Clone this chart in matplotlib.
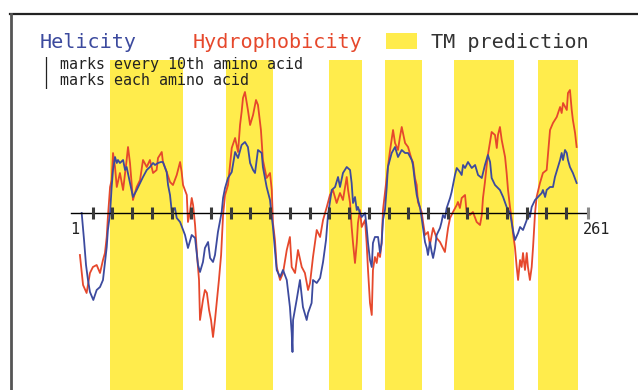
import matplotlib.pyplot as plt
from matplotlib.patches import Rectangle

# helicity profile (blue), residue positions and score
hel_res = [4.4, 5.6, 6.6, 7.6, 8.6, 10.3, 12.0, 13.7, 15.2, 16.2, 17.1, 17.7, 18.8, 19.6, 20.3,
           21.3, 22.2, 22.8, 23.8, 25.4, 26.4, 27.2, 28.9, 30.4, 32.3, 34.0, 35.5, 37.4, 39.0,
           40.6, 41.6, 43.1, 44.6, 45.6, 47.5, 48.2, 49.2, 50.1, 51.7, 52.6, 54.3, 56.8, 58.3,
           60.2, 61.9, 63.4, 64.4, 65.9, 66.9, 68.5, 69.5, 71.0, 72.0, 73.5, 75.4, 76.1, 77.1,
           78.6, 80.5, 82.2, 83.7, 85.5, 87.2, 88.7, 89.8, 91.3, 92.3, 93.8, 95.7, 96.3, 98.2,
           99.9, 100.8, 101.4, 102.4, 103.3, 105.0, 106.5, 108.4, 110.0, 110.9, 111.3, 111.6,
           113.4, 115.1, 116.6, 118.5, 119.2, 121.0, 121.7, 123.6, 125.3, 126.8, 128.3, 129.3,
           131.2, 132.9, 134.4, 135.4, 136.9, 138.8, 140.5, 141.3, 142.0, 143.0, 143.9, 144.5,
           145.5, 146.4, 148.1, 148.9, 149.6, 150.6, 151.5, 152.1, 153.1, 154.7, 155.7, 156.5,
           157.2, 158.2, 159.1, 159.7, 161.6, 163.3, 164.8, 166.7, 168.4, 169.9, 171.8, 172.4,
           173.4, 174.3, 176.0, 176.8, 177.5, 178.5, 179.4, 180.0, 181.0, 181.9, 182.6, 183.6,
           184.4, 186.1, 186.9, 187.6, 188.6, 189.5, 191.2, 192.0, 192.7, 193.7, 194.6, 196.2,
           197.1, 197.8, 198.8, 200.3, 202.2, 203.9, 205.4, 207.3, 208.9, 210.4, 211.5, 212.3,
           214.0, 215.5, 216.5, 218.1, 219.9, 221.6, 222.5, 223.1, 224.1, 225.7, 226.7, 228.2,
           230.1, 230.7, 231.7, 232.6, 234.3, 235.8, 237.7, 238.3, 239.4, 240.2, 241.9, 243.4,
           244.4, 245.9, 247.0, 247.8, 248.5, 249.5, 250.4, 251.0, 252.0, 253.5, 255.4]
hel_val = [0.0, -2.7, -5.2, -6.7, -7.9, -8.7, -7.7, -7.4, -6.7, -5.0, -3.4, -1.7, 0.0, 2.6, 4.3,
           5.6, 5.0, 5.3, 5.0, 5.3, 4.3, 4.6, 3.0, 1.6, 2.3, 3.0, 3.6, 4.3, 4.6,
           5.0, 4.8, 5.0, 5.1, 5.1, 4.1, 2.8, 1.8, 0.1, 0.5, -0.5, -0.9, -2.2, -3.5,
           -2.2, -2.5, -5.2, -5.9, -4.9, -3.5, -2.9, -4.5, -4.9, -4.2, -1.9, 0.1, 1.5, 2.5,
           3.5, 4.1, 6.1, 5.5, 6.8, 7.1, 6.6, 5.0, 4.3, 4.0, 6.3, 6.0, 4.6, 2.6,
           1.3, -0.4, -1.4, -3.7, -5.7, -6.4, -5.7, -6.7, -9.4, -12.0, -13.9, -10.7,
           -8.7, -6.7, -9.4, -10.7, -10.0, -9.0, -6.7, -7.0, -6.5, -4.9, -2.7, -0.2,
           2.3, 2.6, 3.6, 2.6, 4.0, 4.6, 4.3, 3.0, 1.0, 1.6, 0.3, 0.6,
           0.0, -0.4, 0.0, -1.4, -3.0, -4.7, -5.4, -3.0, -2.4, -2.4, -4.0, -3.0,
           -0.7, 0.3, 2.6, 4.6, 6.0, 6.6, 5.6, 6.3, 6.0, 6.0, 5.3, 4.8,
           3.1, 1.8, 0.5, -0.5, -1.5, -2.9, -3.5, -4.2, -2.9, -3.9, -4.5, -3.5,
           -2.2, -1.5, -0.9, -0.2, -0.5, 0.5, 1.5, 2.1, 2.8, 3.8, 4.5, 4.1,
           3.8, 4.8, 4.5, 5.1, 4.5, 4.8, 3.8, 3.5, 4.8, 5.8, 5.1, 3.5,
           2.8, 2.5, 2.3, 1.6, 0.6, 0.0, -1.0, -1.7, -2.7, -2.0, -1.4, -1.7,
           -0.7, 0.3, -0.4, 0.6, 1.3, 1.6, 2.0, 2.3, 1.6, 2.3, 2.6, 2.6,
           3.6, 4.6, 5.3, 6.0, 5.3, 6.3, 6.0, 5.3, 4.6, 4.0, 3.0]

# hydrophobicity profile (red)
hyd_res = [3.5, 5.1, 6.9, 8.6, 10.1, 12.0, 13.7, 15.2, 16.2, 17.1, 17.7, 18.8, 19.6, 20.3, 21.3,
           22.2, 23.8, 25.4, 27.2, 27.9, 28.9, 30.4, 32.3, 34.0, 35.5, 37.4, 39.0, 40.6, 42.4,
           43.1, 45.0, 45.6, 47.5, 49.2, 50.7, 52.6, 54.3, 55.1, 55.8, 57.7, 58.3, 59.3, 60.2,
           60.9, 61.9, 62.9, 63.9, 64.4, 65.9, 66.9, 67.9, 69.0, 70.0, 71.0, 72.0, 73.0, 74.0,
           75.1, 75.6, 76.1, 77.1, 78.6, 80.5, 82.2, 83.7, 84.7, 85.5, 86.2, 87.2, 88.7, 89.8,
           91.3, 92.8, 93.8, 95.3, 96.3, 98.2, 99.9, 100.8, 101.4, 102.4, 103.3, 105.0, 106.5,
           108.4, 110.0, 110.9, 112.6, 114.1, 116.0, 117.6, 119.2, 120.2, 121.7, 123.6, 125.3,
           126.8, 128.7, 130.3, 131.8, 133.7, 135.4, 136.9, 138.8, 139.5, 140.5, 141.3, 142.0,
           143.0, 143.9, 144.5, 145.5, 146.4, 148.1, 148.9, 149.6, 150.6, 151.5, 152.1, 153.1,
           154.0, 154.7, 155.7, 156.5, 157.2, 158.2, 159.7, 160.8, 162.3, 163.3, 164.8, 165.8,
           166.7, 168.4, 169.9, 171.8, 172.4, 173.4, 174.3, 174.9, 176.8, 177.5, 178.5, 180.0,
           181.0, 181.9, 182.6, 184.4, 186.1, 187.6, 188.6, 189.5, 190.2, 191.2, 192.7, 194.6,
           195.2, 196.2, 197.1, 198.8, 199.6, 201.3, 202.8, 204.7, 206.4, 207.3, 207.9, 208.9,
           209.8, 210.4, 211.5, 212.3, 214.0, 214.9, 215.5, 216.5, 217.4, 219.1, 219.9, 220.6,
           221.6, 222.5, 223.1, 224.1, 225.0, 225.7, 226.7, 227.5, 228.2, 229.2, 230.1, 230.7,
           231.7, 232.6, 233.3, 234.3, 235.1, 236.8, 238.3, 240.2, 241.9, 243.4, 245.3, 247.0,
           247.8, 248.5, 250.4, 251.0, 252.0, 252.9, 253.5, 254.6, 255.4]
hyd_val = [-4.2, -7.2, -8.0, -6.0, -5.4, -5.2, -6.0, -4.7, -4.0, -2.4, -0.4, 2.6, 3.3, 6.0, 4.6,
           2.6, 4.0, 2.3, 5.3, 6.6, 5.0, 1.3, 2.6, 3.3, 5.3, 4.6, 5.3, 4.0, 4.3,
           5.5, 6.1, 5.1, 4.1, 3.1, 2.8, 3.8, 5.1, 4.1, 2.8, 1.8, -0.9, 0.1, 1.5,
           0.8, -1.2, -4.2, -6.7, -10.7, -8.7, -7.7, -8.0, -9.7, -10.7, -12.4, -10.7, -8.7, -6.7,
           -4.2, -2.2, -0.2, 1.8, 2.8, 6.5, 7.5, 6.1, 8.8, 10.1, 11.5, 12.1, 10.3, 8.8,
           9.8, 11.3, 10.8, 8.3, 5.3, 3.5, 4.0, 2.3, -1.0, -2.7, -5.4, -6.7, -6.0,
           -3.7, -2.4, -5.4, -6.0, -3.7, -5.4, -6.0, -7.7, -7.0, -4.4, -1.7, -2.4,
           -0.7, 0.6, 1.8, 2.3, 1.0, 2.0, 1.3, 3.6, 2.3, 1.0, -1.4, -3.0,
           -5.0, -3.0, -1.0, 0.3, -1.4, -0.7, -3.0, -5.7, -9.0, -10.2, -5.7, -4.4,
           -5.0, -4.0, -4.4, -3.0, 0.3, 2.0, 4.6, 6.3, 8.3, 7.0, 6.3, 7.6,
           8.6, 7.0, 6.6, 5.3, 5.1, 3.5, 2.8, 1.1, 0.1, -0.9, -2.2, -1.9,
           -3.2, -2.2, -1.5, -2.5, -2.9, -3.5, -3.9, -2.5, -1.5, -0.5, 0.1, 0.8,
           1.1, 0.5, 1.5, 1.8, 0.1, -0.2, 0.1, -0.9, -1.2, -0.2, 1.5, 3.1,
           4.8, 5.8, 7.1, 8.1, 7.8, 6.5, 7.8, 8.6, 7.3, 5.6, 4.0, 2.3,
           0.6, -0.7, -2.0, -3.4, -5.4, -6.7, -4.7, -5.4, -4.0, -5.7, -4.0, -5.4,
           -6.7, -5.4, -3.4, 0.0, 1.6, 3.0, 4.0, 4.3, 8.3, 9.0, 9.6, 10.6,
           10.0, 11.0, 10.3, 12.0, 12.3, 10.3, 9.3, 8.0, 6.6]

# predicted transmembrane segments (start, end residue)
tm_start = [18.8, 77.4, 129.8, 158.2, 193.2, 235.8]
tm_end = [55.9, 101.3, 146.6, 177.0, 223.6, 256.1]

n_res = 261
tick_res = list(range(10, 251, 10))

BLUE = '#3c4a9e'
RED = '#e6482c'
YELLOW = '#ffec4c'
W, H = 638, 390

fig = plt.figure(figsize=(W / 100, H / 100), dpi=100)
ax = fig.add_axes([0, 0, 1, 1])
ax.axis('off')
# one residue = 1.972 px, residue 0 sits at x=73 px; zero line at y=213 px
ax.set_xlim(-73 / 1.972, (W - 73) / 1.972)
ax.set_ylim((213 - H) / 10, 213 / 10)

for s, e in zip(tm_start, tm_end):
    ax.add_patch(Rectangle((s, -20), e - s, 20 + 15.3, color=YELLOW, lw=0, zorder=1))

ax.plot(hyd_res, hyd_val, color=RED, lw=1.3, zorder=3)
ax.plot(hel_res, hel_val, color=BLUE, lw=1.3, zorder=4)

ax.plot([-1, n_res], [0, 0], color='black', lw=1, zorder=5)
ax.vlines(tick_res, -0.58, 0.58, color='#3a3a3a', lw=2.2, zorder=6)
ax.vlines([n_res], -0.58, 0.58, color='#8a8a8a', lw=2.2, zorder=6)

mono = 'DejaVu Sans Mono'


def px(x, y):
    return x / W, 1 - y / H


fig.text(*px(75, 230), '1', ha='center', va='center', family=mono, fontsize=11, color='#222')
fig.text(*px(583, 230), str(n_res), ha='left', va='center', family=mono, fontsize=11, color='#222')

fig.text(*px(40, 42), 'Helicity', ha='left', va='center', family=mono, fontsize=14.5, color=BLUE)
fig.text(*px(193, 42), 'Hydrophobicity', ha='left', va='center', family=mono, fontsize=14.5, color=RED)
fig.add_artist(Rectangle(px(386, 49), 31 / W, 16 / H, color=YELLOW, lw=0, transform=fig.transFigure))
fig.text(*px(431, 42), 'TM prediction', ha='left', va='center', family=mono, fontsize=14.5, color='#333')
fig.text(*px(42, 65), '| marks every 10th amino acid', ha='left', va='center', family=mono,
         fontsize=10.8, color='#222')
fig.text(*px(42, 81), '| marks each amino acid', ha='left', va='center', family=mono,
         fontsize=10.8, color='#222')

# frame of the scanned figure
fig.add_artist(plt.Line2D([10 / W, 1], [1 - 14 / H] * 2, color='#222', lw=1.6, transform=fig.transFigure))
fig.add_artist(plt.Line2D([11 / W] * 2, [0, 1 - 14 / H], color='#555', lw=2, transform=fig.transFigure))

fig.savefig('out.png', dpi=100)
